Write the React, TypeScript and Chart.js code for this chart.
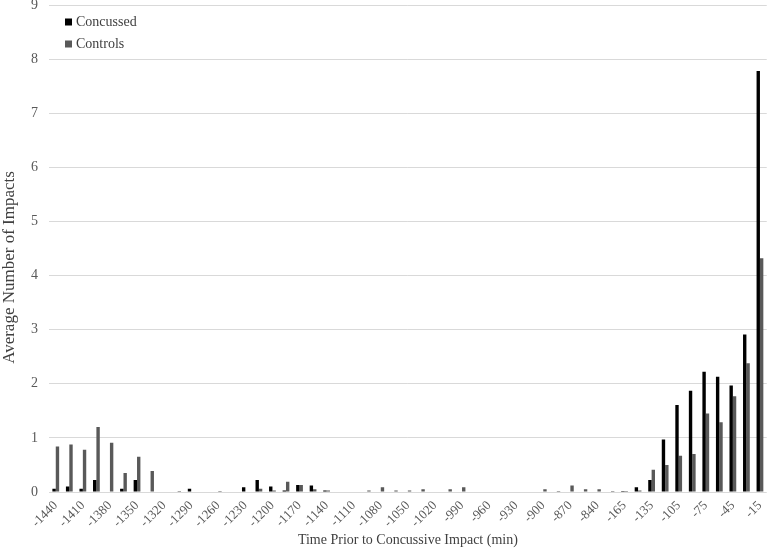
import React, { useEffect, useRef } from 'react';
import { Chart, registerables } from 'chart.js';

Chart.register(...registerables);

const categories = [
  '-1440', '-1425', '-1410', '-1395', '-1380', '-1365', '-1350', '-1335', '-1320', '-1305',
  '-1290', '-1275', '-1260', '-1245', '-1230', '-1215', '-1200', '-1185', '-1170', '-1155',
  '-1140', '-1125', '-1110', '-1095', '-1080', '-1065', '-1050', '-1035', '-1020', '-1005',
  '-990', '-975', '-960', '-945', '-930', '-915', '-900', '-885', '-870', '-855',
  '-840', '-180', '-165', '-150', '-135', '-120', '-105', '-90', '-75', '-60',
  '-45', '-30', '-15',
];

const concussed = [
  0.06, 0.10, 0.06, 0.22, 0, 0.06, 0.22, 0, 0, 0,
  0.06, 0, 0, 0, 0.09, 0.22, 0.10, 0.03, 0.13, 0.12,
  0.03, 0, 0, 0, 0, 0, 0, 0, 0, 0,
  0, 0, 0, 0, 0, 0, 0, 0, 0, 0,
  0, 0, 0.02, 0.09, 0.22, 0.97, 1.61, 1.87, 2.22, 2.13,
  1.97, 2.91, 7.78,
];

const controls = [
  0.84, 0.88, 0.78, 1.20, 0.91, 0.35, 0.65, 0.39, 0, 0.02,
  0, 0, 0.02, 0, 0, 0.06, 0.03, 0.19, 0.13, 0.05,
  0.03, 0, 0, 0.03, 0.09, 0.03, 0.03, 0.05, 0, 0.05,
  0.09, 0, 0, 0, 0, 0, 0.05, 0.02, 0.12, 0.05,
  0.05, 0.02, 0.02, 0.03, 0.41, 0.50, 0.67, 0.70, 1.45, 1.29,
  1.77, 2.38, 4.32,
];

const seriesNames = ['Concussed', 'Controls'];
const seriesColors = ['#000000', '#595959'];
const yMin = 0;
const yMax = 9;
const yStep = 1;
const xTitle = 'Time Prior to Concussive Impact (min)';
const yTitle = 'Average Number of Impacts';

const FONT = '"Liberation Serif", "Times New Roman", serif';

export default function App() {
  const ref = useRef<HTMLCanvasElement | null>(null);

  useEffect(() => {
    if (!ref.current) return;

    const insideLegend = {
      id: 'insideLegend',
      afterDraw(chart: any) {
        const { ctx, chartArea } = chart;
        ctx.save();
        chart.data.datasets.forEach((ds: any, i: number) => {
          const y = chartArea.top + 17 + i * 22;
          const x = chartArea.left + 16;
          ctx.fillStyle = ds.backgroundColor;
          ctx.fillRect(x, y - 3.5, 7, 7);
          ctx.fillStyle = '#404040';
          ctx.font = `14px ${FONT}`;
          ctx.textBaseline = 'middle';
          ctx.textAlign = 'left';
          ctx.fillText(ds.label, x + 11, y);
        });
        ctx.restore();
      },
    };

    const yTitlePlugin = {
      id: 'yTitlePlugin',
      afterDraw(chart: any) {
        const { ctx, chartArea } = chart;
        ctx.save();
        ctx.translate(10, (chartArea.top + chartArea.bottom) / 2 + 19);
        ctx.rotate(-Math.PI / 2);
        ctx.fillStyle = '#404040';
        ctx.font = `17px ${FONT}`;
        ctx.textAlign = 'center';
        ctx.textBaseline = 'middle';
        ctx.fillText(yTitle, 0, 0);
        ctx.restore();
      },
    };

    const chart = new Chart(ref.current, {
      type: 'bar',
      data: {
        labels: categories,
        datasets: [
          {
            label: seriesNames[0],
            data: concussed,
            backgroundColor: seriesColors[0],
            categoryPercentage: 0.5,
            barPercentage: 1.0,
          },
          {
            label: seriesNames[1],
            data: controls,
            backgroundColor: seriesColors[1],
            categoryPercentage: 0.5,
            barPercentage: 1.0,
          },
        ],
      },
      options: {
        animation: false,
        responsive: true,
        maintainAspectRatio: false,
        layout: { padding: { top: 0, right: 2, left: 0, bottom: 0 } },
        plugins: {
          legend: { display: false },
          tooltip: { enabled: false },
        },
        scales: {
          x: {
            grid: { display: false, drawTicks: false },
            border: { display: false },
            ticks: {
              autoSkip: false,
              minRotation: 45,
              maxRotation: 45,
              padding: 6,
              color: '#595959',
              font: { family: FONT, size: 13 },
              callback: (_v: any, i: number) => (i % 2 === 0 ? categories[i] : ''),
            },
            title: {
              display: true,
              text: xTitle,
              color: '#404040',
              font: { family: FONT, size: 14 },
              padding: { top: 0, bottom: 6 },
            },
            afterFit: (scale: any) => {
              scale.height = 63;
            },
          },
          y: {
            min: yMin,
            max: yMax,
            grid: { color: '#d9d9d9', drawTicks: false, lineWidth: 1 },
            border: { display: false },
            ticks: {
              stepSize: yStep,
              padding: 11,
              color: '#595959',
              font: { family: FONT, size: 14 },
            },
            title: { display: false },
            afterFit: (scale: any) => {
              scale.width = 49;
              scale.paddingTop = 5;
            },
          },
        },
      },
      plugins: [insideLegend, yTitlePlugin],
    });

    return () => chart.destroy();
  }, []);

  return (
    <div style={{ position: 'fixed', left: 0, top: 0, width: 777, height: 555, background: '#ffffff' }}>
      <canvas ref={ref} />
    </div>
  );
}
